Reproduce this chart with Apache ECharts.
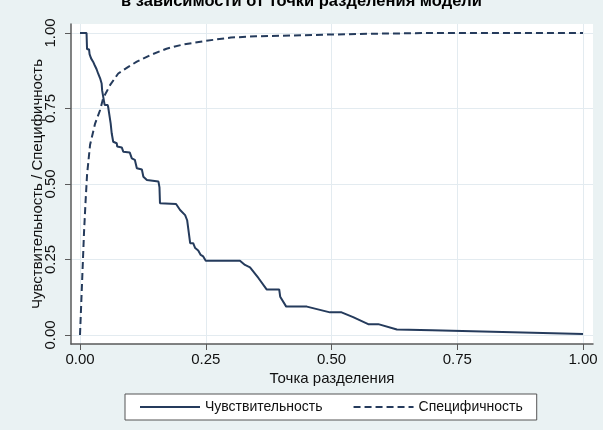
<!DOCTYPE html>
<html>
<head>
<meta charset="utf-8">
<script src="https://cdn.jsdelivr.net/npm/echarts@6/dist/echarts.min.js"></script>
<style>
html,body{margin:0;padding:0;background:#eaf2f3;}
#c{width:603px;height:430px;}
</style>
</head>
<body>
<div id="c"></div>
<script>
var titleText = 'в зависимости от точки разделения модели';
var xName = 'Точка разделения';
var yName = 'Чувствительность / Специфичность';
var seriesNames = ['Чувствительность', 'Специфичность'];
var xTicks = [0, 0.25, 0.5, 0.75, 1];
var yTicks = [0, 0.25, 0.5, 0.75, 1];

var sensX = [0.000,0.013,0.014,0.018,0.019,0.021,0.022,0.025,0.026,0.028,0.029,0.032,0.033,0.035,0.036,0.039,0.040,0.042,0.043,0.044,0.046,0.049,0.055,0.056,0.059,0.061,0.063,0.065,0.066,0.073,0.074,0.083,0.086,0.099,0.103,0.109,0.113,0.123,0.126,0.133,0.156,0.158,0.159,0.191,0.199,0.209,0.213,0.219,0.225,0.229,0.235,0.240,0.245,0.250,0.318,0.328,0.338,0.355,0.371,0.396,0.398,0.410,0.451,0.497,0.520,0.543,0.573,0.593,0.630,0.700,1.000];
var sensY = [1.000,1.000,0.946,0.946,0.930,0.930,0.916,0.916,0.905,0.905,0.894,0.894,0.880,0.880,0.866,0.866,0.850,0.850,0.833,0.810,0.790,0.762,0.762,0.755,0.755,0.700,0.668,0.662,0.640,0.635,0.624,0.621,0.607,0.604,0.585,0.580,0.552,0.548,0.524,0.513,0.508,0.489,0.436,0.434,0.414,0.397,0.380,0.304,0.304,0.288,0.280,0.265,0.260,0.246,0.246,0.232,0.224,0.188,0.151,0.151,0.127,0.094,0.094,0.075,0.075,0.059,0.036,0.036,0.018,0.016,0.003];

var specX = [0.000,0.004,0.008,0.011,0.014,0.020,0.030,0.040,0.046,0.060,0.076,0.096,0.113,0.140,0.172,0.205,0.250,0.300,0.350,0.400,0.500,0.600,0.700,1.000];
var specY = [0.000,0.170,0.340,0.440,0.530,0.630,0.700,0.745,0.784,0.828,0.866,0.888,0.905,0.927,0.948,0.962,0.974,0.985,0.989,0.991,0.995,0.998,1.000,1.000];

function pairs(xs, ys){ return xs.map(function(x,i){ return [x, ys[i]]; }); }

var lineColor = '#253b5c';
var font = "'Liberation Sans', Arial, sans-serif";

var chart = echarts.init(document.getElementById('c'), null, {renderer:'canvas'});
chart.setOption({
  backgroundColor: '#eaf2f3',
  animation: false,
  textStyle: {fontFamily: font},
  title: {
    text: titleText, left: 'center', top: -7, padding: 0,
    textStyle: {fontSize: 16.5, fontWeight: 'bold', color: '#000', fontFamily: font}
  },
  grid: {
    left: 71, right: 10, top: 24, bottom: 86,
    show: true, backgroundColor: '#ffffff', borderWidth: 0,
    outerBoundsMode: 'none', containLabel: false
  },
  legend: {
    bottom: 10, left: 125,
    backgroundColor: '#ffffff', borderColor: '#555', borderWidth: 1, borderRadius: 0,
    padding: [6, 14], itemGap: 30, itemWidth: 60, itemHeight: 12,
    itemStyle: {opacity: 0, borderWidth: 0},
    textStyle: {fontSize: 14, color: '#111', fontFamily: font},
    data: seriesNames
  },
  xAxis: {
    type: 'value', min: -0.0179, max: 1.0199,
    name: xName, nameLocation: 'middle', nameGap: 27, nameMoveOverlap: false,
    nameTextStyle: {fontSize: 15, color: '#111', fontFamily: font},
    axisLine: {show: true, onZero: false, lineStyle: {color: '#5a5a5a', width: 1.5}},
    axisTick: {show: true, customValues: xTicks, length: 6, lineStyle: {color: '#5a5a5a'}},
    axisLabel: {customValues: xTicks, fontSize: 15, color: '#111', margin: 8,
      formatter: function(v){ return v.toFixed(2); }},
    splitLine: {show: true, lineStyle: {color: '#e3ebf0', width: 1}}
  },
  yAxis: {
    type: 'value', min: -0.0298, max: 1.0298,
    name: yName, nameLocation: 'middle', nameGap: 26, nameRotate: 90, nameMoveOverlap: false,
    nameTextStyle: {fontSize: 15, color: '#111', fontFamily: font},
    axisLine: {show: true, onZero: false, lineStyle: {color: '#5a5a5a', width: 1.5}},
    axisTick: {show: true, customValues: yTicks, length: 6, lineStyle: {color: '#5a5a5a'}},
    axisLabel: {customValues: yTicks, fontSize: 15, color: '#111', margin: 13, rotate: 90,
      formatter: function(v){ return v.toFixed(2); }},
    splitLine: {show: true, lineStyle: {color: '#e3ebf0', width: 1}}
  },
  series: [
    {
      name: seriesNames[0], type: 'line', symbol: 'none', showSymbol: false,
      data: pairs(sensX, sensY),
      lineStyle: {color: lineColor, width: 2},
      itemStyle: {color: lineColor}
    },
    {
      name: seriesNames[1], type: 'line', symbol: 'none', showSymbol: false,
      data: pairs(specX, specY),
      lineStyle: {color: lineColor, width: 2, type: [7, 4]},
      itemStyle: {color: lineColor}
    }
  ]
});
</script>
</body>
</html>
